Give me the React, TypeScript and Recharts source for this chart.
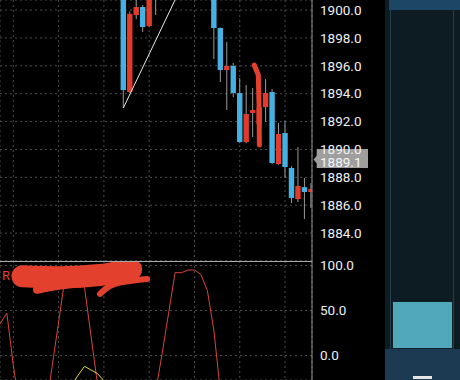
import React from 'react';
import { ComposedChart, Bar, Line, XAxis, YAxis, CartesianGrid, ReferenceLine } from 'recharts';

// ---------- price candles ----------
const candleIndex = [0, 1, 2, 3, 4, 5, 6, 7, 8, 9, 10, 11, 12, 13, 14, 15, 16, 17, 18, 19, 20, 21, 22, 23, 24, 25, 26, 27, 28, 29];
const opens = [1902.4, 1894.12, 1899.64, 1900.22, 1898.85, 1901.0, 1901.9, 1902.8, 1903.5, 1903.1, 1902.6, 1903.0, 1902.4, 1901.8, 1901.5, 1898.71, 1895.7, 1895.99, 1894.05, 1890.53, 1892.61, 1891.8, 1893.04, 1894.12, 1888.95, 1891.18, 1888.67, 1886.44, 1887.3, 1886.95];
const highs = [1902.6, 1899.9, 1900.85, 1900.36, 1901.3, 1902.1, 1903.2, 1903.9, 1904.2, 1903.8, 1903.4, 1903.6, 1902.9, 1902.3, 1901.7, 1898.75, 1897.71, 1896.2, 1895.12, 1894.62, 1894.41, 1893.6, 1895.05, 1894.34, 1891.9, 1892.05, 1888.8, 1890.17, 1887.95, 1887.59];
const lows = [1892.97, 1894.05, 1899.36, 1898.42, 1898.78, 1899.64, 1901.5, 1902.4, 1902.9, 1902.2, 1901.9, 1902.1, 1901.4, 1901.2, 1896.49, 1894.84, 1892.83, 1893.76, 1890.45, 1890.45, 1890.89, 1890.9, 1891.97, 1888.97, 1888.9, 1887.95, 1886.16, 1886.23, 1885.01, 1885.8];
const closes = [1894.26, 1899.72, 1900.22, 1898.78, 1901.1, 1901.9, 1902.8, 1903.5, 1903.1, 1902.6, 1903.0, 1902.4, 1901.8, 1901.5, 1898.71, 1895.7, 1895.99, 1894.05, 1890.53, 1892.54, 1892.83, 1893.0, 1894.05, 1889.03, 1891.11, 1888.74, 1886.52, 1887.38, 1886.95, 1887.16];

const priceTicks = [1884, 1886, 1888, 1890, 1892, 1894, 1896, 1898, 1900];
const priceDomain = [1882.0, 1900.72];
const lastPrice = 1889.1;

// trend line drawn by the user (index, price)
const trendIdx = [0, 10];
const trendPrice = [1892.97, 1902.66];

// hand-drawn mark on the price panel
const markIdx = [20.25, 20.87, 21.0, 21.03];
const markPrice = [1896.06, 1895.34, 1892.83, 1890.32];

// ---------- oscillator ----------
const oscIndex = [-20, -19, -18, -17, -16, -15, -14, -13, -12, -11, -10, -9, -8, -7, -6, -5, -4, -3, -2, -1, 0, 1, 2, 3, 4, 5, 6, 7, 8, 9, 10, 11, 12, 13, 14, 15, 16, 17, 18, 19, 20, 21, 22, 23, 24, 25, 26, 27, 28, 29];
const oscRed = [20, 36, 47, -11, -60, -70, -72, -68, -60, -12, 37, 87, 97, 96, 76, 22, -31, -65, -75, -78, -80, -76, -72, -70, -65, -40, 2, 47, 92, 92, 95, 95, 90, 72, 28, -40, -66, -74, -79, -82, -80, -77, -80, -85, -82, -84, -88, -85, -87, -86];
const yellowIndex = [-9, -8, -7, -6, -5, -4, -3, -2];
const oscYellow = [-45, -33, -22, -12, -16, -20, -28, -45];
const oscTicks = [0, 50, 100];
const oscDomain = [-27.2, 105];

// censor scribble on the oscillator label (index, value)
const blobAIdx = [-15.6, -9.77, -3.6, 1.2];
const blobAVal = [88.0, 87.0, 89.4, 95.5];
const blobBIdx = [-13.34, -9.77, -5.9];
const blobBVal = [73.0, 77.8, 80.6];
const blobCIdx = [-3.6, -2.06, 1.04, 3.66];
const blobCVal = [68.5, 77.2, 82.8, 85.0];

const gridIndex = [-17, -10, -3, 4, 11, 18, 25];
const xDomain = [-19.06, 29.17];

// ---------- tables ----------
const candleData = candleIndex.map((i, k) => ({
  i,
  o: opens[k],
  h: highs[k],
  l: lows[k],
  c: closes[k],
  range: [lows[k], highs[k]],
}));
const markData = markIdx.map((i, k) => ({ i, m: markPrice[k] }));
const trendSegment = trendIdx.map((i, k) => ({ x: i, y: trendPrice[k] }));

const oscData = oscIndex.map((i, k) => {
  const yi = yellowIndex.indexOf(i);
  return { i, red: oscRed[k], yellow: yi >= 0 ? oscYellow[yi] : null };
});
const blobA = blobAIdx.map((i, k) => ({ i, b: blobAVal[k] }));
const blobB = blobBIdx.map((i, k) => ({ i, b: blobBVal[k] }));
const blobC = blobCIdx.map((i, k) => ({ i, b: blobCVal[k] }));

const RED = '#e23b2c';
const BLUE = '#45b1e3';
const SCRIBBLE = '#e3412d';
const FONT = 'Roboto, "Noto Sans", sans-serif';
const BODY_W = 5.4;

const Candle = (props: any) => {
  const { x, y, width, height, payload } = props;
  if (x == null || y == null || !payload) return null;
  const top = Math.min(y, y + height);
  const bot = Math.max(y, y + height);
  const { o, h, l, c } = payload;
  const ppu = (bot - top) / (h - l);
  const py = (p: number) => top + (h - p) * ppu;
  const cx = x + (width || 0) / 2;
  const color = c >= o ? RED : BLUE;
  const bt = py(Math.max(o, c));
  const bb = py(Math.min(o, c));
  return (
    <g>
      <line x1={cx} x2={cx} y1={top} y2={bot} stroke="#9a9a9a" strokeWidth={1} />
      <rect x={cx - BODY_W / 2} y={bt} width={BODY_W} height={Math.max(1.5, bb - bt)} fill={color} />
    </g>
  );
};

const PriceTag = (props: any) => {
  const vb = props.viewBox || {};
  const xr = (vb.x ?? 0) + (vb.width ?? 0);
  const y = vb.y ?? 0;
  return (
    <g>
      <path d={`M${xr + 1.5},${y - 2.5} L${xr + 5},${y - 6.5} L${xr + 5},${y + 1.5} Z`} fill="#9e9e9e" />
      <rect x={xr + 4.7} y={y - 13} width={51.3} height={19} fill="#9e9e9e" />
      <text x={xr + 8} y={y + 4.6} fill="#f6f6f6" fontSize={13.5} fontFamily={FONT}>
        {lastPrice.toFixed(1)}
      </text>
    </g>
  );
};

const tickStyle = { fill: '#f0f0f0', fontSize: 13.5, fontFamily: FONT };

export default function App() {
  return (
    <div
      style={{
        position: 'fixed',
        left: 0,
        top: 0,
        width: 460,
        height: 380,
        background: '#000',
        overflow: 'hidden',
        fontFamily: FONT,
      }}
    >
      {/* price panel */}
      <div style={{ position: 'absolute', left: 0, top: 0 }}>
        <ComposedChart width={385} height={261} data={candleData} margin={{ top: 0, right: 0, bottom: 0, left: 0 }}>
          <CartesianGrid stroke="#4d4d4d" strokeDasharray="2 3" />
          <XAxis dataKey="i" type="number" domain={xDomain} ticks={gridIndex} interval={0} allowDataOverflow hide />
          <YAxis
            orientation="right"
            width={73}
            domain={priceDomain}
            ticks={priceTicks}
            interval={0}
            allowDataOverflow
            tickLine={false}
            tickMargin={2}
            axisLine={{ stroke: '#8e8e8e' }}
            tick={tickStyle}
            tickFormatter={(v: number) => v.toFixed(1)}
          />
          <Bar dataKey="range" barSize={5.4} shape={<Candle />} isAnimationActive={false} />
          <Line
            data={markData}
            dataKey="m"
            stroke={SCRIBBLE}
            strokeWidth={5}
            strokeLinecap="round"
            strokeLinejoin="round"
            dot={false}
            activeDot={false}
            type="linear"
            isAnimationActive={false}
          />
          <ReferenceLine segment={trendSegment} stroke="#e8e8e8" strokeWidth={1} ifOverflow="hidden" />
          <ReferenceLine y={lastPrice} stroke="none" label={<PriceTag />} />
        </ComposedChart>
      </div>

      {/* oscillator panel */}
      <div style={{ position: 'absolute', left: 0, top: 251 }}>
        <ComposedChart width={385} height={129} data={oscData} margin={{ top: 10, right: 0, bottom: 0, left: 0 }}>
          <CartesianGrid stroke="#4d4d4d" strokeDasharray="2 3" />
          <XAxis dataKey="i" type="number" domain={xDomain} ticks={gridIndex} interval={0} allowDataOverflow hide />
          <YAxis
            orientation="right"
            width={73}
            domain={oscDomain}
            ticks={oscTicks}
            interval={0}
            allowDataOverflow
            tickLine={false}
            tickMargin={2}
            axisLine={{ stroke: '#8e8e8e' }}
            tick={tickStyle}
            tickFormatter={(v: number) => v.toFixed(1)}
          />
          <Line dataKey="red" stroke="#d4463f" strokeWidth={1} dot={false} activeDot={false} type="linear" isAnimationActive={false} />
          <Line dataKey="yellow" stroke="#e6d84a" strokeWidth={1} dot={false} activeDot={false} type="linear" isAnimationActive={false} />
          <Line data={blobA} dataKey="b" stroke={SCRIBBLE} strokeWidth={22} strokeLinecap="round" strokeLinejoin="round" dot={false} activeDot={false} type="monotone" isAnimationActive={false} />
          <Line data={blobB} dataKey="b" stroke={SCRIBBLE} strokeWidth={8} strokeLinecap="round" strokeLinejoin="round" dot={false} activeDot={false} type="monotone" isAnimationActive={false} />
          <Line data={blobC} dataKey="b" stroke={SCRIBBLE} strokeWidth={6} strokeLinecap="round" strokeLinejoin="round" dot={false} activeDot={false} type="monotone" isAnimationActive={false} />
        </ComposedChart>
      </div>

      {/* panel separator */}
      <div style={{ position: 'absolute', left: 0, top: 261, width: 312, height: 1, background: '#a9a9a9' }} />

      {/* indicator name (partly covered) */}
      <div style={{ position: 'absolute', left: 2, top: 268, color: SCRIBBLE, fontSize: 13, lineHeight: '16px', fontFamily: FONT }}>
        R
      </div>

      {/* right side scroller panel */}
      <div style={{ position: 'absolute', left: 385, top: 0, width: 75, height: 380, background: '#0c1c22' }} />
      <div style={{ position: 'absolute', left: 389, top: 0, width: 71, height: 10, background: '#1d4566' }} />
      <div style={{ position: 'absolute', left: 390, top: 10, width: 1, height: 340, background: '#22404b' }} />
      <div style={{ position: 'absolute', left: 453, top: 10, width: 1, height: 340, background: '#22404b' }} />
      <div style={{ position: 'absolute', left: 385, top: 349, width: 75, height: 31, background: '#1c3a52' }} />
      <div
        style={{
          position: 'absolute',
          left: 392,
          top: 301,
          width: 59,
          height: 46,
          background: '#52a8bb',
          border: '1.5px solid #0f2027',
        }}
      />
      <div style={{ position: 'absolute', left: 413, top: 376, width: 19, height: 3, background: '#e6e6e6' }} />
    </div>
  );
}
